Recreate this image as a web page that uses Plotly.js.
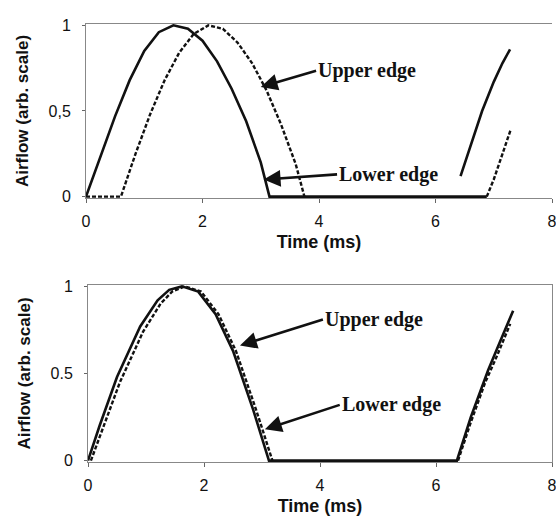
<!DOCTYPE html>
<html><head><meta charset="utf-8">
<script src="https://cdn.plot.ly/plotly-3.0.1.min.js"></script>
<style>html,body{margin:0;padding:0;background:#fff}#c{width:556px;height:519px}</style>
</head><body><div id="c"></div>
<script>
// ---- Top panel ----
const topLowerX = [0,0.25,0.5,0.75,1.0,1.25,1.5,1.75,2.0,2.25,2.5,2.75,3.0,3.15,4.0,5.0,6.0,6.88,null,6.43,6.6,6.8,7.0,7.15,7.28];
const topLowerY = [0,0.24,0.47,0.68,0.85,0.96,1.0,0.98,0.91,0.79,0.63,0.44,0.20,0,0,0,0,0,null,0.12,0.3,0.5,0.67,0.78,0.86];
const topUpperX = [0,0.6,0.85,1.1,1.35,1.6,1.85,2.1,2.35,2.6,2.85,3.1,3.35,3.6,3.75,null,6.88,7.0,7.15,7.29];
const topUpperY = [0,0,0.25,0.48,0.68,0.84,0.95,1.0,0.98,0.9,0.78,0.62,0.42,0.19,0,null,0,0.1,0.25,0.39];
// ---- Bottom panel ----
const botLowerX = [0,0.2,0.5,0.9,1.2,1.4,1.62,1.9,2.2,2.5,2.85,3.12,4.0,5.0,6.0,6.36,6.6,6.9,7.1,7.33];
const botLowerY = [0,0.2,0.48,0.77,0.92,0.98,1.0,0.97,0.84,0.63,0.29,0,0,0,0,0,0.25,0.52,0.68,0.86];
const botUpperX = [0.05,0.25,0.55,0.95,1.25,1.45,1.67,1.95,2.25,2.55,2.9,3.18,null,6.38,6.6,6.85,7.05,7.28];
const botUpperY = [0,0.18,0.45,0.74,0.9,0.97,1.0,0.97,0.84,0.63,0.29,0,null,0,0.22,0.45,0.6,0.785];
// ---- Labels ----
const xTicks = [0,2,4,6,8];
const yTicks = [0,0.5,1];
const yTickTextTop = ['0','0,5','1'];
const yTickTextBot = ['0','0.5','1'];
const xTitle = 'Time (ms)';
const yTitle = 'Airflow (arb. scale)';
const seriesNames = ['Lower edge','Upper edge'];

const solid = {color:'#111', width:2.6};
const dashed = {color:'#111', width:2.4, dash:'4px,2px'};
const traces = [
  {x:topLowerX, y:topLowerY, mode:'lines', line:solid, name:seriesNames[0], xaxis:'x', yaxis:'y', connectgaps:false},
  {x:topUpperX, y:topUpperY, mode:'lines', line:dashed, name:seriesNames[1], xaxis:'x', yaxis:'y', connectgaps:false},
  {x:botLowerX, y:botLowerY, mode:'lines', line:solid, name:seriesNames[0], xaxis:'x2', yaxis:'y2', connectgaps:false},
  {x:botUpperX, y:botUpperY, mode:'lines', line:dashed, name:seriesNames[1], xaxis:'x2', yaxis:'y2', connectgaps:false}
];
const tickFont = {family:'Liberation Sans, Arial', size:16, color:'#111'};
const xTitleFont = {family:'Liberation Sans, Arial', size:18, color:'#111', weight:'bold'};
const yTitleFont = {family:'Liberation Sans, Arial', size:17, color:'#111', weight:'bold'};
function xa(dom, anchor){return {domain:dom, anchor:anchor, range:[0,8], tickvals:xTicks, ticktext:xTicks.map(String), tickfont:tickFont,
  showline:true, mirror:true, linecolor:'#888', linewidth:1, ticks:'outside', ticklen:4, tickcolor:'#666', showgrid:false, zeroline:false,
  ticklabelstandoff:5, ticklabeloverflow:'allow',
  title:{text:xTitle, font:xTitleFont, standoff:6}, fixedrange:true};}
function ya(dom, anchor, tt, mir){return {domain:dom, anchor:anchor, range:[-0.008,1.008], tickvals:yTicks, ticktext:tt, tickfont:tickFont,
  showline:true, mirror:mir, linecolor:'#888', linewidth:1, ticks:'outside', ticklen:3, tickcolor:'#666', showgrid:false, zeroline:false,
  ticklabelstandoff:8,
  title:{text:yTitle, font:yTitleFont, standoff:15}, fixedrange:true};}
const annFont = {family:'Liberation Serif, Times New Roman', size:20, color:'#111', weight:'bold'};
function ann(xr, yr, tx, ty, hx, hy, text){return {xref:xr, yref:yr, axref:xr, ayref:yr, x:tx, y:ty, ax:hx, ay:hy, text:text,
  showarrow:true, arrowhead:2, arrowsize:1.3, arrowwidth:2.6, arrowcolor:'#111', xanchor:'left', yanchor:'middle', font:annFont};}
const layout = {
  width:556, height:519, margin:{l:0,r:0,t:0,b:0}, paper_bgcolor:'#fff', plot_bgcolor:'#fff', showlegend:false,
  xaxis: xa([86/556, 552/556], 'y'),
  yaxis: ya([0.6185, 0.9538], 'x', yTickTextTop, false),
  xaxis2: xa([88/556, 552/556], 'y2'),
  yaxis2: ya([0.1098, 0.4509], 'x2', yTickTextBot, true),
  annotations:[
    ann('x','y',3.0,0.64,3.95,0.735,seriesNames[1]),
    ann('x','y',3.05,0.10,4.31,0.13,seriesNames[0]),
    ann('x2','y2',2.62,0.66,4.05,0.81,seriesNames[1]),
    ann('x2','y2',3.05,0.18,4.34,0.32,seriesNames[0])
  ]
};
Plotly.newPlot('c', traces, layout, {staticPlot:true, displayModeBar:false});
</script></body></html>
